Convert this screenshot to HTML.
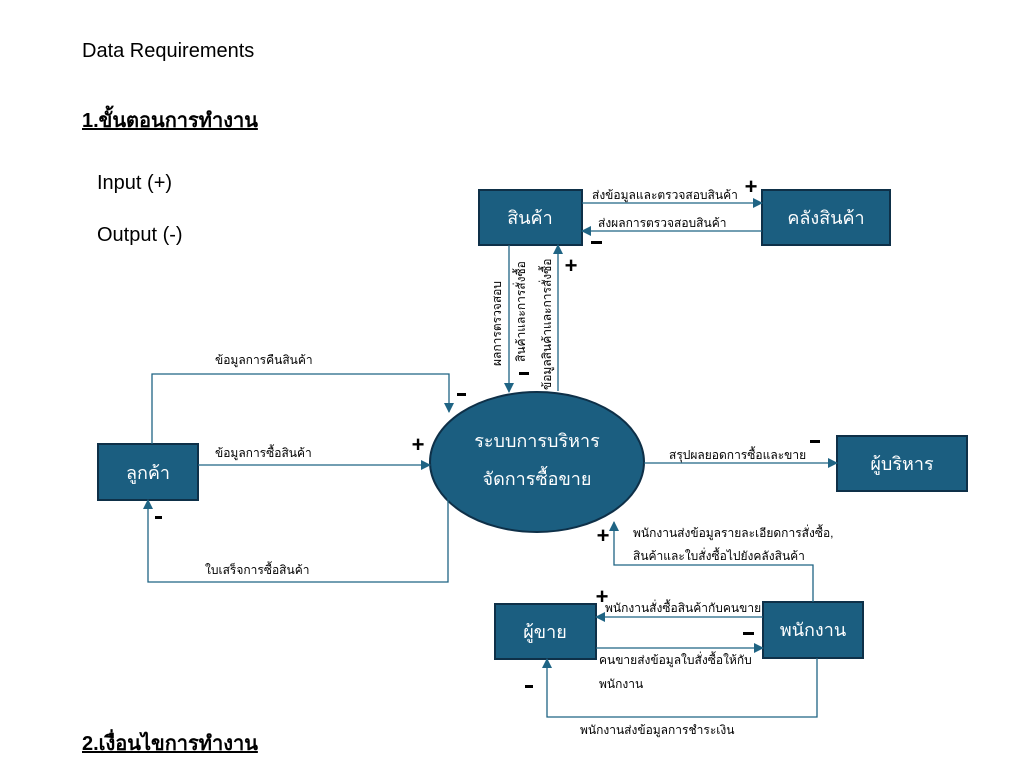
<!DOCTYPE html>
<html><head><meta charset="utf-8"><style>
html,body{margin:0;padding:0;background:#fff;}
svg{display:block;}
text{font-family:"Liberation Sans","Noto Sans CJK SC","WenQuanYi Zen Hei",sans-serif;}
</style></head><body>
<svg width="1020" height="767" viewBox="0 0 1020 767" xmlns="http://www.w3.org/2000/svg">
<defs>
<marker id="a" viewBox="0 0 10 10" refX="9" refY="5" markerWidth="10" markerHeight="10" markerUnits="userSpaceOnUse" orient="auto"><path d="M0,0L10,5L0,10z" fill="#1f6484"/></marker>
</defs>
<text x="82" y="57" font-size="20" fill="#000">Data Requirements</text>
<text x="82" y="127" font-size="20" font-weight="bold" fill="#000" text-decoration="underline">1.ขั้นตอนการทำงาน</text>
<text x="97" y="189" font-size="20" fill="#000">Input (+)</text>
<text x="97" y="241" font-size="20" fill="#000">Output (-)</text>
<text x="82" y="750" font-size="20" font-weight="bold" fill="#000" text-decoration="underline">2.เงื่อนไขการทำงาน</text>

<g fill="#1b5e80" stroke="#0e3048" stroke-width="2">
<rect x="479" y="190" width="103" height="55"/>
<rect x="762" y="190" width="128" height="55"/>
<rect x="98" y="444" width="100" height="56"/>
<rect x="837" y="436" width="130" height="55"/>
<rect x="495" y="604" width="101" height="55"/>
<rect x="763" y="602" width="100" height="56"/>
<ellipse cx="537" cy="462" rx="107" ry="70"/>
</g>
<g fill="#fff" font-size="18" text-anchor="middle">
<text x="530" y="224">สินค้า</text>
<text x="826" y="224">คลังสินค้า</text>
<text x="148" y="479">ลูกค้า</text>
<text x="902" y="470">ผู้บริหาร</text>
<text x="545" y="638">ผู้ขาย</text>
<text x="813" y="636">พนักงาน</text>
<text x="537" y="447">ระบบการบริหาร</text>
<text x="537" y="485">จัดการซื้อขาย</text>
</g>

<g fill="none" stroke="#1f6484" stroke-width="1.3">
<path d="M582,203H762" marker-end="url(#a)"/>
<path d="M762,231H582" marker-end="url(#a)"/>
<path d="M509,245V392" marker-end="url(#a)"/>
<path d="M558,391V245" marker-end="url(#a)"/>
<path d="M152,444V374H449V412" marker-end="url(#a)"/>
<path d="M198,465H430" marker-end="url(#a)"/>
<path d="M448,498V582H148V500" marker-end="url(#a)"/>
<path d="M644,463H837" marker-end="url(#a)"/>
<path d="M813,602V565H614V522" marker-end="url(#a)"/>
<path d="M763,617H596" marker-end="url(#a)"/>
<path d="M596,648H763" marker-end="url(#a)"/>
<path d="M817,658V717H547V659" marker-end="url(#a)"/>
</g>

<g fill="#000" font-size="12">
<text x="592" y="199">ส่งข้อมูลและตรวจสอบสินค้า</text>
<text x="598" y="227">ส่งผลการตรวจสอบสินค้า</text>
<text x="215" y="364">ข้อมูลการคืนสินค้า</text>
<text x="215" y="457">ข้อมูลการซื้อสินค้า</text>
<text x="205" y="574">ใบเสร็จการซื้อสินค้า</text>
<text x="669" y="459">สรุปผลยอดการซื้อและขาย</text>
<text x="633" y="537">พนักงานส่งข้อมูลรายละเอียดการสั่งซื้อ,</text>
<text x="633" y="560">สินค้าและใบสั่งซื้อไปยังคลังสินค้า</text>
<text x="605" y="612">พนักงานสั่งซื้อสินค้ากับคนขาย</text>
<text x="599" y="664">คนขายส่งข้อมูลใบสั่งซื้อให้กับ</text>
<text x="599" y="688">พนักงาน</text>
<text x="580" y="734">พนักงานส่งข้อมูลการชำระเงิน</text>
<text transform="translate(501,366) rotate(-90)">ผลการตรวจสอบ</text>
<text transform="translate(525,362) rotate(-90)">สินค้าและการสั่งซื้อ</text>
<text transform="translate(551,390) rotate(-90)">ข้อมูลสินค้าและการสั่งซื้อ</text>
</g>

<g fill="#000" font-size="22" font-weight="bold" text-anchor="middle">
<text x="751" y="194">+</text>
<text x="571" y="273">+</text>
<text x="418" y="452">+</text>
<text x="603" y="543">+</text>
<text x="602" y="604">+</text>
</g>
<g fill="#000">
<rect x="591" y="241" width="11" height="3"/>
<rect x="519" y="372" width="10" height="3"/>
<rect x="457" y="393" width="9" height="3"/>
<rect x="155" y="516" width="7" height="3"/>
<rect x="810" y="440" width="10" height="3"/>
<rect x="743" y="632" width="11" height="3"/>
<rect x="525" y="685" width="8" height="3"/>
</g>
</svg>
</body></html>
